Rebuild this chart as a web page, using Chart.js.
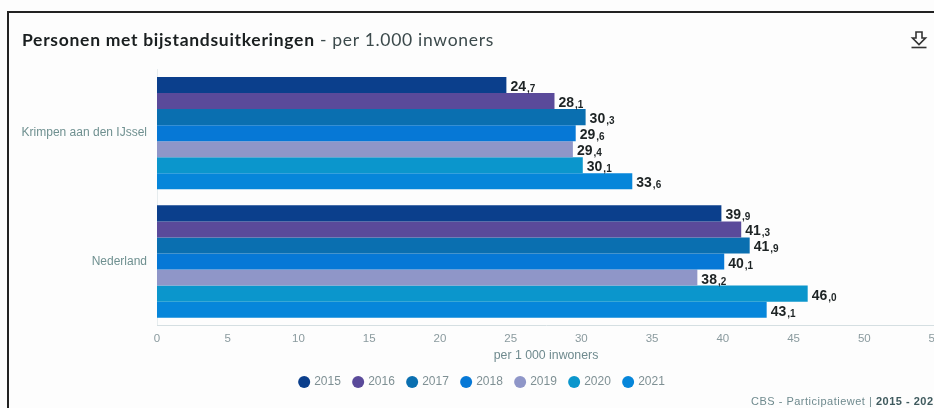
<!DOCTYPE html>
<html lang="nl">
<head>
<meta charset="utf-8">
<title>Personen met bijstandsuitkeringen</title>
<script src="https://cdn.jsdelivr.net/npm/chart.js@4"></script>
<style>
  html, body { margin: 0; padding: 0; background: #fff; overflow: hidden; }
  #page { position: relative; width: 934px; height: 408px; overflow: hidden; background: #fdfdfd; }
  #frame { position: absolute; left: 7px; top: 11px; width: 1000px; height: 500px;
           border-left: 2px solid #222; border-top: 2px solid #222; }
  canvas { position: absolute; left: 0; top: 0; }
  #heading { position: absolute; left: 22px; top: 29px; font: 17.500px Lato, sans-serif;
             color: #3c4a4c; letter-spacing: .7px; white-space: nowrap; }
  #heading b { color: #1a1f20; font-weight: 700; }
  #source { position: absolute; left: 751px; top: 395px; font: 11px "Liberation Sans", sans-serif;
            color: #6f8a8e; letter-spacing: .5px; white-space: nowrap; }
  #source b { color: #3f5a5e; }
  #save { position: absolute; left: 910px; top: 30px; }
</style>
</head>
<body>
<div id="page">
  <div id="frame"></div>
  <canvas id="chart" width="962" height="408"></canvas>
  <div id="heading"><b>Personen met bijstandsuitkeringen</b> - per 1.000 inwoners</div>
  <svg id="save" width="18" height="20" viewBox="0 0 18 20">
    <path d="M6 2h6v6h3.5L9 14.5 2.500 8H6z" fill="none" stroke="#333" stroke-width="1.600"/>
    <path d="M1.500 17.500h15" stroke="#333" stroke-width="1.600"/>
  </svg>
  <div id="source">CBS - Participatiewet | <b>2015 - 2021</b></div>
</div>
<script>
// Persons receiving social assistance, per 1,000 inhabitants
const categories = ['Krimpen aan den IJssel', 'Nederland'];
const years = ['2015', '2016', '2017', '2018', '2019', '2020', '2021'];
const krimpen = [24.7, 28.1, 30.3, 29.6, 29.4, 30.1, 33.6];
const nederland = [39.9, 41.3, 41.9, 40.1, 38.2, 46.0, 43.1];
const colours = ['#0b3f8c', '#5a4a9a', '#0a6fb0', '#0678d6', '#8f96c8', '#0b96cc', '#0686da'];
const axisTitle = 'per 1 000 inwoners';

// Value labels: large bold integer part followed by a small decimal part
const valueLabels = {
  id: 'valueLabels',
  afterDatasetsDraw(chart) {
    const ctx = chart.ctx;
    ctx.save();
    ctx.textBaseline = 'alphabetic';
    ctx.textAlign = 'left';
    ctx.fillStyle = '#1d2324';
    chart.data.datasets.forEach((ds, i) => {
      chart.getDatasetMeta(i).data.forEach((bar, j) => {
        const [whole, frac] = ds.data[j].toFixed(1).split('.');
        const x = bar.x + 4;
        const y = bar.y + 6;
        ctx.font = 'bold 14px "Liberation Sans", sans-serif';
        ctx.fillText(whole, x, y);
        const w = ctx.measureText(whole).width;
        ctx.font = 'bold 10px "Liberation Sans", sans-serif';
        ctx.fillText(',' + frac, x + w + 1, y + 1);
      });
    });
    ctx.restore();
  }
};

// Narrows the legend box from the left so its row sits further right
const legendInset = {
  id: 'legendInset',
  afterLayout(chart) {
    chart.legend.left += 30;
  }
};

new Chart(document.getElementById('chart'), {
  type: 'bar',
  data: {
    labels: categories,
    datasets: years.map((year, i) => ({
      label: year,
      data: [krimpen[i], nederland[i]],
      backgroundColor: colours[i],
      borderWidth: 0
    }))
  },
  options: {
    indexAxis: 'y',
    responsive: false,
    animation: false,
    categoryPercentage: 0.875,
    barPercentage: 1,
    layout: { padding: { top: 69, right: 27, bottom: 10, left: 0 } },
    scales: {
      y: {
        grid: { display: false, drawTicks: false },
        border: { color: '#e6ecee', width: 1 },
        afterFit(scale) { scale.width = 157; },
        ticks: { color: '#6f9090', padding: 10, font: { family: '"Liberation Sans"', size: 12 } }
      },
      x: {
        min: 0,
        max: 55,
        afterFit(scale) { scale.height = 37; },
        grid: { display: false, drawTicks: false },
        border: { color: '#d5dfe2', width: 1 },
        ticks: { stepSize: 5, autoSkip: false, maxRotation: 0, color: '#8a9a9e', padding: 6,
                 font: { family: '"Liberation Sans"', size: 11.500 } },
        title: { display: true, text: axisTitle, color: '#6f8a8e', padding: { top: 3, bottom: 0 },
                 font: { family: '"Liberation Sans"', size: 12.300 } }
      }
    },
    plugins: {
      tooltip: { enabled: false },
      legend: {
        position: 'bottom',
        labels: {
          usePointStyle: true,
          pointStyle: 'circle',
          boxWidth: 8,
          boxHeight: 8.500,
          padding: 13.300,
          color: '#7f9094',
          font: { family: '"Liberation Sans"', size: 12 }
        }
      }
    }
  },
  plugins: [valueLabels, legendInset]
});
</script>
</body>
</html>
